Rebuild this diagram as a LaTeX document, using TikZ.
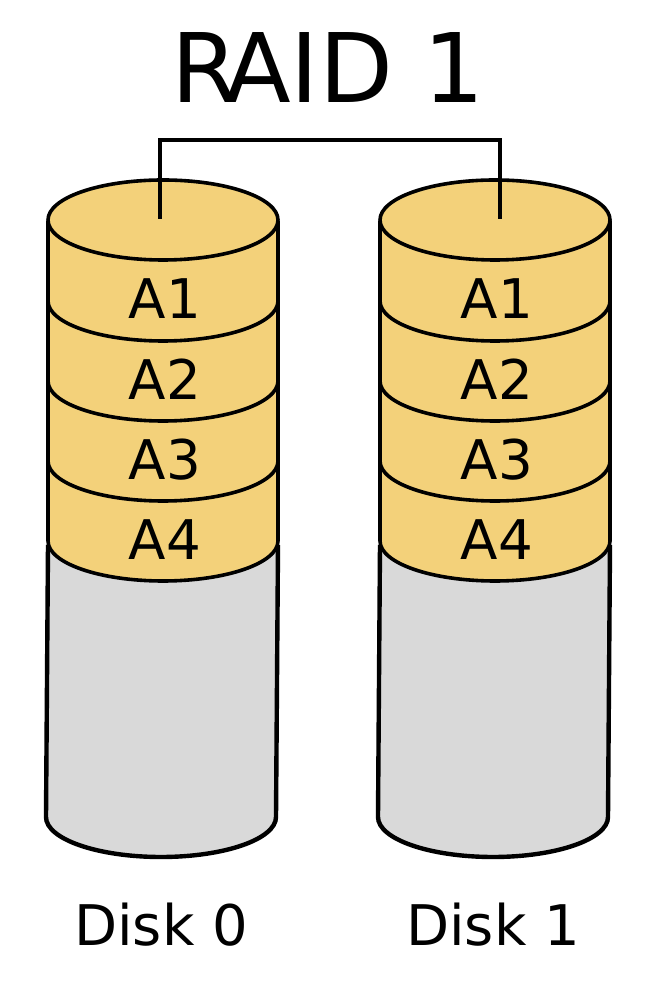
\documentclass[tikz,border=0pt]{standalone}
\usepackage{fontspec}
\setmainfont{DejaVu Sans}
\definecolor{platter}{RGB}{243,209,122}
\definecolor{unused}{RGB}{217,217,217}
\tikzstyle{title} = [anchor=base, inner sep=0pt, font=\fontsize{72}{72}\selectfont]
\tikzstyle{label} = [anchor=base, inner sep=0pt, font=\fontsize{41}{41}\selectfont]
\tikzstyle{disk} = [anchor=base, inner sep=0pt, font=\fontsize{42}{42}\selectfont]
\tikzstyle{rim} = [draw=black, line width=2.7pt]
\tikzstyle{side} = [draw=black, line width=3.3pt]
\tikzstyle{line} = [draw=black, line width=2.7pt]

\begin{document}
\begin{tikzpicture}[x=0.75pt, y=0.75pt]
    \useasboundingbox (0,0) rectangle (650,1000);
    % Place nodes
    \node [title] (raid) at (328,897) {R\kern-0.137em AID 1};
    \foreach \d/\xs in {0/0,1/332} {
        \begin{scope}[shift={(\xs,0)}]
            % empty part of the disk
            \path [fill=unused, side] (48,455) -- (46,183) arc (180:360:115 and 40) -- (278,455);
            % stripes, lowest first
            \foreach \i/\yy in {4/459,3/539,2/619,1/699} {
                \path [fill=platter] (48,\yy+80) -- (48,\yy) arc (180:360:115 and 40) -- (278,\yy+80) -- cycle;
                \path [rim] (48,\yy) arc (180:360:115 and 40);
                \draw [side] (48,\yy) -- (48,\yy+80) (278,\yy) -- (278,\yy+80);
            }
            \path [fill=platter, rim] (163,780) ellipse (115 and 40);
            \coordinate (port\d) at (\ifnum\d=0 160\else 168\fi,781);
            \node [label] (a1l\d) at (165,681) {A1};
            \node [label] (a2l\d) at (165,600) {A2};
            \node [label] (a3l\d) at (165,520) {A3};
            \node [label] (a4l\d) at (165,440) {A4};
            \node [disk] (disk\d) at (161,55) {Disk \d};
        \end{scope}
    }
    \coordinate (bus) at (160,860);
    % Draw edges
    \path [line] (port0) -- (bus) -| (port1);
\end{tikzpicture}
\end{document}
